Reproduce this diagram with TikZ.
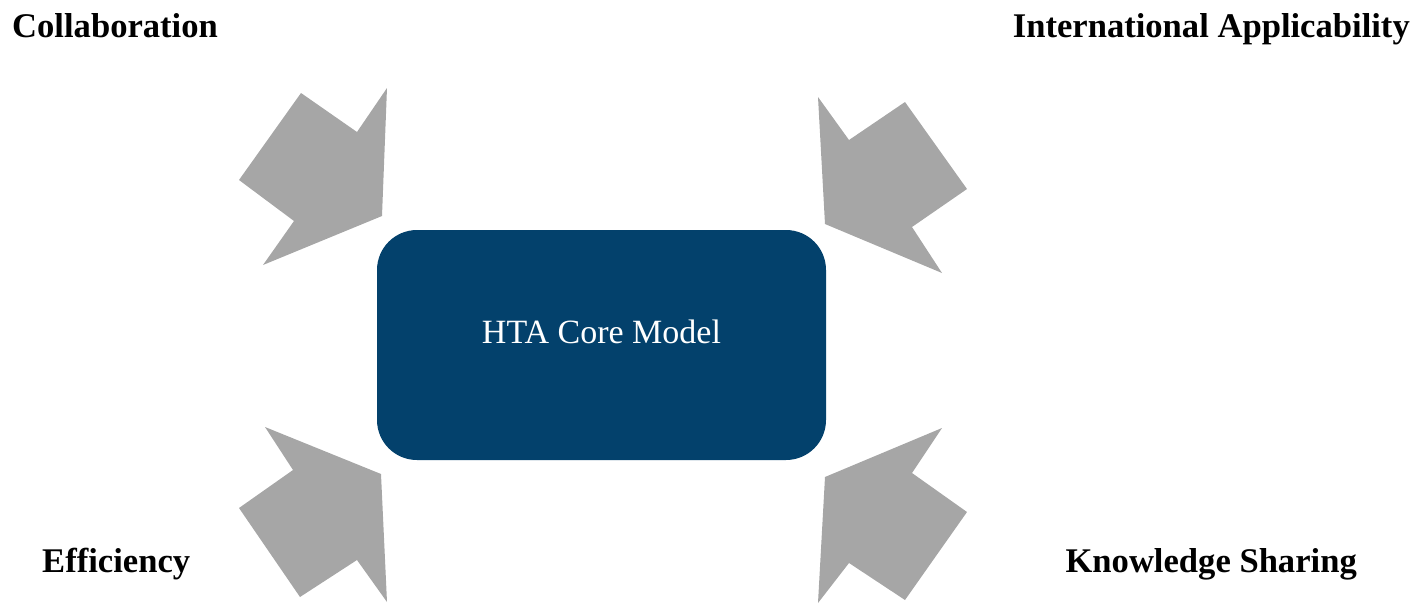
\documentclass[tikz,border=0pt]{standalone}
\usepackage{fontspec}
\setmainfont{Liberation Serif}
\definecolor{corebl}{RGB}{3,65,108}
\definecolor{arrowgr}{RGB}{166,166,166}
\begin{document}
\begin{tikzpicture}[x=1pt,y=-1pt,
  corebox/.style={fill=corebl, rounded corners=40pt, minimum width=449pt, minimum height=230pt, inner sep=0pt,
    text=white, font=\fontsize{34}{40}\selectfont, text height=24pt, text depth=28pt},
  lbl/.style={font=\bfseries\fontsize{34.6}{40}\selectfont, inner sep=0pt},
  blockarrow/.style={fill=arrowgr}]
\useasboundingbox (0,0) rectangle (1428,603);
\node[corebox] (core) at (601.5,345) {HTA Core Model};
% arrows
\fill[blockarrow] (301,93) -- (357,132) -- (387,88) -- (382,216) -- (263,265) -- (294,221) -- (239,180) -- cycle;
\fill[blockarrow] (818,97) -- (849,140) -- (905,102) -- (967,189) -- (912,227) -- (942,273) -- (825,224) -- cycle;
\fill[blockarrow] (265,427) -- (381,474) -- (387,602) -- (357,560) -- (300,597) -- (239,508) -- (293,470) -- cycle;
\fill[blockarrow] (942,428) -- (912,473) -- (967,512) -- (905,600) -- (849,563) -- (818,603) -- (825,477) -- cycle;
% labels
\node[lbl, anchor=base west] (collab) at (12,37) {Collaboration};
\node[lbl, anchor=base east] (intl) at (1410,37) {International Applicability};
\node[lbl, anchor=base west] (effic) at (42,572) {Efficiency};
\node[lbl, anchor=base east] (know) at (1357,572) {Knowledge Sharing};
\end{tikzpicture}
\end{document}
